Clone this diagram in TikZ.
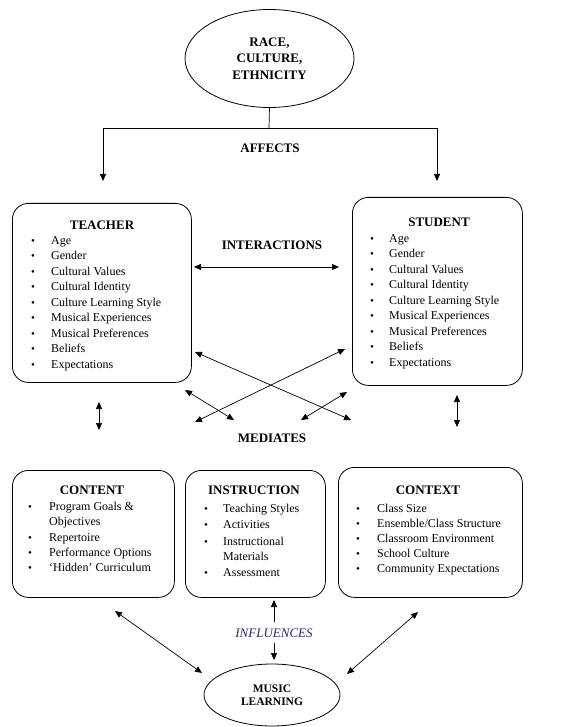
\documentclass[tikz,border=0pt]{standalone}
\usepackage{fontspec}
\setmainfont{Liberation Serif}
\usetikzlibrary{shapes.geometric,arrows.meta}
\definecolor{inflblue}{RGB}{35,45,105}
\tikzset{
  box/.style={draw, line width=0.8pt, rounded corners=16pt, anchor=north west, inner sep=0pt},
  oval/.style={draw, ellipse, line width=0.8pt, align=center, inner sep=0pt, font=\bfseries\fontsize{13}{16.5}\selectfont},
  heading/.style={font=\bfseries\fontsize{13}{15}\selectfont, inner sep=0pt},
  item/.style={anchor=base west, inner sep=0pt, font=\fontsize{12}{14}\selectfont},
  dot/.style={anchor=base, inner sep=0pt, font=\fontsize{11}{14}\selectfont},
  tip/.style={line width=0.7pt, -{Triangle[length=7pt,width=6pt]}},
  twotip/.style={line width=0.7pt, {Triangle[length=7pt,width=6pt]}-{Triangle[length=7pt,width=6pt]}},
}
\begin{document}
\begin{tikzpicture}[x=1pt, y=-1pt]
\useasboundingbox (0,0) rectangle (564,727);
% race, culture, ethnicity
\node[oval, minimum width=169pt, minimum height=98pt] (race) at (269.5,58.5) {RACE,\\CULTURE,\\ETHNICITY};
\coordinate (split) at (269,128);
\coordinate (teachin) at (103,181);
\coordinate (studin) at (437,181);
\draw[line width=0.7pt] (race.south) -- (split);
\draw[tip] (split) -| (teachin);
\draw[tip] (split) -| (studin);
\node[heading] (affects) at (270,148) {AFFECTS};

% teacher and student
\node[box, minimum width=179pt, minimum height=179pt] (teacher) at (12,203) {};
\node[box, minimum width=170pt, minimum height=188pt] (student) at (352,197) {};
\node[heading] (teachertitle) at (102,225) {TEACHER};
\node[heading] (studenttitle) at (439,222) {STUDENT};
\foreach \t [count=\i] in {Age, Gender, Cultural Values, Cultural Identity, Culture Learning Style, Musical Experiences, Musical Preferences, Beliefs, Expectations} {
  \node[dot] (tdot\i) at (33,244+15.5*\i-15.5) {\textbullet};
  \node[item] (titem\i) at (51,244+15.5*\i-15.5) {\t};
  \node[dot] (sdot\i) at (372,242+15.5*\i-15.5) {\textbullet};
  \node[item] (sitem\i) at (389,242+15.5*\i-15.5) {\t};
}
\node[heading] (interactions) at (272,245) {INTERACTIONS};
\coordinate (ia) at (194,267);
\coordinate (ib) at (339,267);
\draw[twotip] (ia) -- (ib);

% mediates
\coordinate (ca) at (195,352);
\coordinate (cb) at (351,420);
\coordinate (cc) at (345,349);
\coordinate (cd) at (195,422);
\coordinate (sa) at (185,390);
\coordinate (sb) at (234,420);
\coordinate (sc) at (347,392);
\coordinate (sd) at (301,420);
\coordinate (va) at (99,402);
\coordinate (vb) at (99,430);
\coordinate (vc) at (457,395);
\coordinate (vd) at (457,427);
\draw[twotip] (ca) -- (cb);
\draw[twotip] (cc) -- (cd);
\draw[twotip] (sa) -- (sb);
\draw[twotip] (sc) -- (sd);
\draw[twotip] (va) -- (vb);
\draw[twotip] (vc) -- (vd);
\node[heading] (mediates) at (272,438) {MEDIATES};

% content, instruction, context
\node[box, minimum width=162pt, minimum height=127pt] (content) at (12,470) {};
\node[box, minimum width=140pt, minimum height=127pt] (instruction) at (185,470) {};
\node[box, minimum width=184pt, minimum height=130pt] (context) at (338,467) {};
\node[heading] (contenttitle) at (92,490) {CONTENT};
\node[heading] (instructiontitle) at (254,490) {INSTRUCTION};
\node[heading] (contexttitle) at (428,490) {CONTEXT};

\node[dot] (cdot1) at (30,510) {\textbullet};
\node[item] (citem1) at (49,510) {Program Goals \&};
\node[item] (citem2) at (49,525) {Objectives};
\node[dot] (cdot3) at (30,541) {\textbullet};
\node[item] (citem3) at (49,541) {Repertoire};
\node[dot] (cdot4) at (30,556) {\textbullet};
\node[item] (citem4) at (49,556) {Performance Options};
\node[dot] (cdot5) at (30,571) {\textbullet};
\node[item] (citem5) at (49,571) {`Hidden' Curriculum};

\node[dot] (idot1) at (206,512) {\textbullet};
\node[item] (iitem1) at (223,512) {Teaching Styles};
\node[dot] (idot2) at (206,528) {\textbullet};
\node[item] (iitem2) at (223,528) {Activities};
\node[dot] (idot3) at (206,545) {\textbullet};
\node[item] (iitem3) at (223,545) {Instructional};
\node[item] (iitem4) at (223,560) {Materials};
\node[dot] (idot5) at (206,576) {\textbullet};
\node[item] (iitem5) at (223,576) {Assessment};

\foreach \t [count=\i] in {Class Size, Ensemble/Class Structure, Classroom Environment, School Culture, Community Expectations} {
  \node[dot] (xdot\i) at (358,512+15*\i-15) {\textbullet};
  \node[item] (xitem\i) at (377,512+15*\i-15) {\t};
}

% music learning
\node[oval, minimum width=136pt, minimum height=62pt, font=\bfseries\fontsize{11.5}{13}\selectfont] (music) at (272,695) {MUSIC\\LEARNING};
\node[font=\itshape\fontsize{13}{15}\selectfont, text=inflblue, inner sep=0pt] (influences) at (274,633) {INFLUENCES};
\coordinate (ua) at (274,622);
\coordinate (ub) at (274,600);
\coordinate (da) at (274,643);
\coordinate (db) at (274,660);
\draw[tip] (ua) -- (ub);
\draw[tip] (da) -- (db);
\coordinate (la) at (115,611);
\coordinate (lb) at (202,673);
\coordinate (ra) at (418,612);
\coordinate (rb) at (347,674);
\draw[twotip] (la) -- (lb);
\draw[twotip] (ra) -- (rb);
\end{tikzpicture}
\end{document}
